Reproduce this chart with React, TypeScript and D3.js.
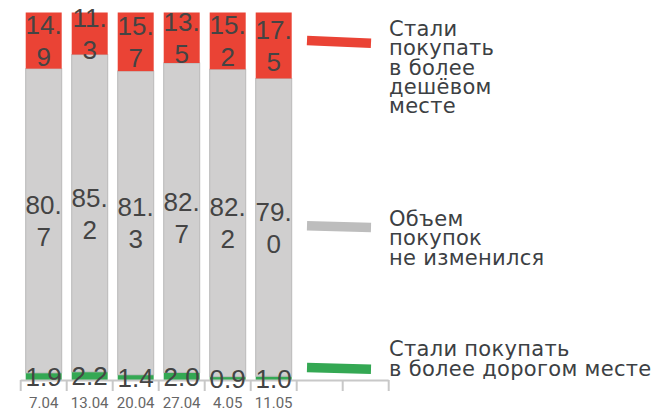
import React from "react";
import * as d3 from "d3";

const dates = ["7.04", "13.04", "20.04", "27.04", "4.05", "11.05"];
const slots = ["7.04", "13.04", "20.04", "27.04", "4.05", "11.05", "", " "];
const cheaper = [14.9, 11.3, 15.7, 13.5, 15.2, 17.5];
const same = [80.7, 85.2, 81.3, 82.7, 82.2, 79.0];
const pricier = [1.9, 2.2, 1.4, 2.0, 0.9, 1.0];
const legendCheaper = ["Стали", "покупать", "в более", "дешёвом", "месте"];
const legendSame = ["Объем", "покупок", "не изменился"];
const legendPricier = ["Стали покупать", "в более дорогом месте"];

const W = 659;
const H = 408;
const RED = "#ea4335";
const GRAY = "#d0cfcf";
const GREEN = "#34a853";
const GRAY_LEG = "#bdbdbd";

export default function App() {
  const x = d3.scaleBand<string>().domain(slots).range([20.7, 388.7]).padding(0);
  const barInset = 5;
  const barW = x.bandwidth() - 2 * barInset;
  const y = d3.scaleLinear().domain([0, 1]).range([380, 12.5]);

  const rows = dates.map((d, i) => ({
    date: d,
    pricier: pricier[i],
    same: same[i],
    cheaper: cheaper[i],
  }));
  const keys = ["pricier", "same", "cheaper"];
  const stack = d3.stack<any>().keys(keys).offset(d3.stackOffsetExpand);
  const series = stack(rows);
  const colors: Record<string, string> = { pricier: GREEN, same: GRAY, cheaper: RED };

  const fmt = (v: number) => v.toFixed(1);
  const splitLabel = (s: string) => (s.length > 3 ? [s.slice(0, -1), s.slice(-1)] : [s]);
  const lineH = 32;

  const ticks = slots.map((s) => x(s) as number).concat([x.range()[1]]);

  const legendX0 = 307;
  const legendX1 = 371;
  const textX = 389;
  const legends = [
    { color: RED, y0: 40.5, y1: 43.3, lines: legendCheaper, base: 36 },
    { color: GRAY_LEG, y0: 225.8, y1: 227.5, lines: legendSame, base: 226 },
    { color: GREEN, y0: 367.5, y1: 369.2, lines: legendPricier, base: 356.2 },
  ];

  return (
    <svg
      width={W}
      height={H}
      style={{ position: "absolute", left: 0, top: 0, display: "block", background: "#fff" }}
    >
      {series.map((s) => (
        <g key={s.key}>
          {s.map((seg, i) => (
            <rect
              key={i}
              x={(x(dates[i]) as number) + barInset}
              y={y(seg[1])}
              width={barW}
              height={y(seg[0]) - y(seg[1])}
              fill={colors[s.key]}
              stroke={s.key === "same" ? "#b9b9b9" : "none"}
              strokeWidth={1}
            />
          ))}
        </g>
      ))}
      {/* axis */}
      <line x1={x.range()[0]} x2={x.range()[1]} y1={380.5} y2={380.5} stroke="#c8c8c8" strokeWidth={2} />
      {ticks.map((t, i) => (
        <line key={i} x1={t} x2={t} y1={380} y2={391} stroke="#c8c8c8" strokeWidth={2} />
      ))}
      {dates.map((d) => (
        <text
          key={d}
          x={(x(d) as number) + x.bandwidth() / 2}
          y={407.5}
          textAnchor="middle"
          fontFamily="Roboto, Liberation Sans, sans-serif"
          fontSize={15}
          fill="#666"
        >
          {d}
        </text>
      ))}
      {/* labels */}
      {series.map((s) =>
        s.map((seg, i) => {
          const vals = s.key === "pricier" ? pricier : s.key === "same" ? same : cheaper;
          const lines = splitLabel(fmt(vals[i]));
          const cy = (y(seg[0]) + y(seg[1])) / 2;
          const cx = (x(dates[i]) as number) + x.bandwidth() / 2;
          const capH = 19;
          const firstBase = cy - ((lines.length - 1) * lineH) / 2 + capH / 2;
          return (
            <text
              key={s.key + i}
              x={cx}
              textAnchor="middle"
              fontFamily="Liberation Sans, Arial, sans-serif"
              fontSize={26}
              fill="#444"
            >
              {lines.map((l, j) => (
                <tspan key={j} x={cx} y={firstBase + j * lineH}>
                  {l}
                </tspan>
              ))}
            </text>
          );
        })
      )}
      {/* legend */}
      {legends.map((lg, k) => (
        <g key={k}>
          <line x1={legendX0} x2={legendX1} y1={lg.y0} y2={lg.y1} stroke={lg.color} strokeWidth={9.5} />
          <text fontFamily="DejaVu Sans, sans-serif" fontSize={21} letterSpacing={0.3} fill="#3c4043">
            {lg.lines.map((l, j) => (
              <tspan key={j} x={textX} y={lg.base + j * 19.3}>
                {l}
              </tspan>
            ))}
          </text>
        </g>
      ))}
    </svg>
  );
}
